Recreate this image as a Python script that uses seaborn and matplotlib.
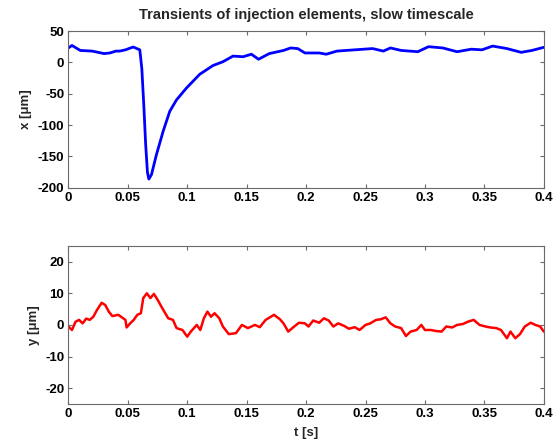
import numpy as np
import pandas as pd
import matplotlib
matplotlib.use("Agg")
import matplotlib.pyplot as plt
import seaborn as sns

# ---- data ----
t_x = [0.000, 0.003, 0.010, 0.020, 0.030, 0.035, 0.040, 0.0433, 0.048, 0.0545,
       0.0601, 0.0618, 0.0635, 0.0650, 0.0665, 0.0677, 0.0699, 0.0741, 0.0797, 0.0853,
       0.0909, 0.0993, 0.1105, 0.1217, 0.130, 0.1385, 0.147, 0.154, 0.160, 0.169,
       0.181, 0.187, 0.193, 0.199, 0.211, 0.217, 0.226, 0.241, 0.256, 0.265,
       0.271, 0.280, 0.294, 0.303, 0.315, 0.327, 0.339, 0.348, 0.357, 0.369,
       0.381, 0.390, 0.400]
x_um = [23, 27, 19, 18, 14, 15, 18, 18, 20, 24.5,
        20, -10, -70, -130, -175, -186, -179, -147, -110, -78,
        -60, -41, -19, -5, 1, 10, 9, 13, 5, 14,
        19, 23, 22, 15, 15, 13, 18, 20, 22, 18,
        23, 19, 17, 25, 23, 17, 21, 20, 26, 22,
        16, 19, 24]

t_y = [0.000, 0.003, 0.006, 0.009, 0.012, 0.015, 0.018, 0.021, 0.024, 0.028,
       0.031, 0.034, 0.037, 0.042, 0.045, 0.048, 0.049, 0.052, 0.055, 0.058,
       0.061, 0.063, 0.066, 0.069, 0.072, 0.075, 0.079, 0.084, 0.088, 0.091,
       0.096, 0.100, 0.103, 0.108, 0.111, 0.114, 0.117, 0.120, 0.123, 0.127,
       0.130, 0.135, 0.141, 0.146, 0.151, 0.157, 0.161, 0.166, 0.173, 0.178,
       0.181, 0.185, 0.190, 0.194, 0.199, 0.202, 0.206, 0.211, 0.215, 0.219,
       0.223, 0.227, 0.232, 0.236, 0.241, 0.245, 0.250, 0.254, 0.259, 0.263,
       0.267, 0.271, 0.275, 0.280, 0.284, 0.288, 0.293, 0.297, 0.300, 0.305,
       0.309, 0.314, 0.318, 0.323, 0.327, 0.332, 0.336, 0.341, 0.346, 0.351,
       0.355, 0.360, 0.364, 0.369, 0.372, 0.376, 0.380, 0.384, 0.389, 0.393,
       0.397, 0.400]
y_um = [-0.5, -1.6, 1.0, 1.6, 0.5, 2.0, 1.6, 2.6, 4.7, 7.0,
        6.3, 4.2, 2.8, 3.2, 2.4, 1.6, -0.8, 0.5, 1.6, 3.2,
        3.7, 8.5, 10.0, 8.5, 9.8, 8.0, 5.3, 2.1, 1.6, -1.0,
        -1.6, -3.7, -2.1, 0.0, -1.6, 2.1, 4.2, 2.6, 3.7, 2.1,
        -0.5, -2.9, -2.6, 0.0, -1.0, 0.0, -0.7, 1.6, 3.2, 1.8,
        0.5, -2.1, -0.5, 0.7, 0.5, -0.5, 1.4, 0.7, 2.1, 1.4,
        -0.5, 0.5, -0.3, -1.2, -0.7, -1.6, 0.0, 0.5, 1.6, 1.8,
        2.4, 0.5, -0.5, -1.0, -3.5, -2.1, -1.6, 0.0, -1.6, -1.6,
        -1.9, -2.1, -0.5, -0.8, 0.0, 0.3, 1.0, 1.6, 0.0, -0.5,
        -0.8, -1.0, -1.6, -4.2, -2.1, -4.2, -2.9, -0.5, 0.7, 0.0,
        -0.5, -2.1]

x_ticks = [0, 0.05, 0.1, 0.15, 0.2, 0.25, 0.3, 0.35, 0.4]
x_ticklabels = ["0", "0.05", "0.1", "0.15", "0.2", "0.25", "0.3", "0.35", "0.4"]
top_yticks = [50, 0, -50, -100, -150, -200]
bot_yticks = [20, 10, 0, -10, -20]

title = "Transients of injection elements, slow timescale"

sns.set_theme(style="ticks")
plt.rcParams["font.family"] = ["Liberation Sans", "DejaVu Sans"]
plt.rcParams["font.weight"] = "bold"
plt.rcParams["axes.unicode_minus"] = False

fig = plt.figure(figsize=(5.56, 4.43), dpi=100)
ax1 = fig.add_axes([0.123, 0.576, 0.855, 0.354])
ax2 = fig.add_axes([0.123, 0.088, 0.855, 0.357])

df1 = pd.DataFrame({"t": t_x, "x": x_um})
df2 = pd.DataFrame({"t": t_y, "y": y_um})
sns.lineplot(data=df1, x="t", y="x", ax=ax1, color=(0, 0, 1), linewidth=2)
sns.lineplot(data=df2, x="t", y="y", ax=ax2, color=(1, 0, 0), linewidth=1.8)

axcol = "#6a6a6a"
for ax, yt, ylim in [(ax1, top_yticks, (-200, 50)), (ax2, bot_yticks, (-25, 25))]:
    ax.set_xlim(0, 0.4)
    ax.set_ylim(*ylim)
    ax.set_xticks(x_ticks)
    ax.set_xticklabels(x_ticklabels)
    ax.set_yticks(yt)
    ax.tick_params(direction="in", top=True, right=True, length=3,
                   labelsize=9.5, color=axcol, labelcolor="black", width=0.8, pad=3)
    for lab in ax.get_xticklabels() + ax.get_yticklabels():
        lab.set_fontweight("bold")
    for s in ax.spines.values():
        s.set_visible(True)
        s.set_color(axcol)
        s.set_linewidth(0.8)
    ax.grid(False)
    ax.set_xlabel("")

ax1.set_ylabel("x [μm]", fontsize=9.5, fontweight="bold", labelpad=4)
ax2.set_ylabel("y [μm]", fontsize=9.5, fontweight="bold", labelpad=4)
ax2.set_xlabel("t [s]", fontsize=9.5, fontweight="bold", labelpad=5)
ax1.set_title(title, fontsize=10.5, fontweight="bold", pad=9)

fig.savefig("out.png", dpi=100, facecolor="white")
